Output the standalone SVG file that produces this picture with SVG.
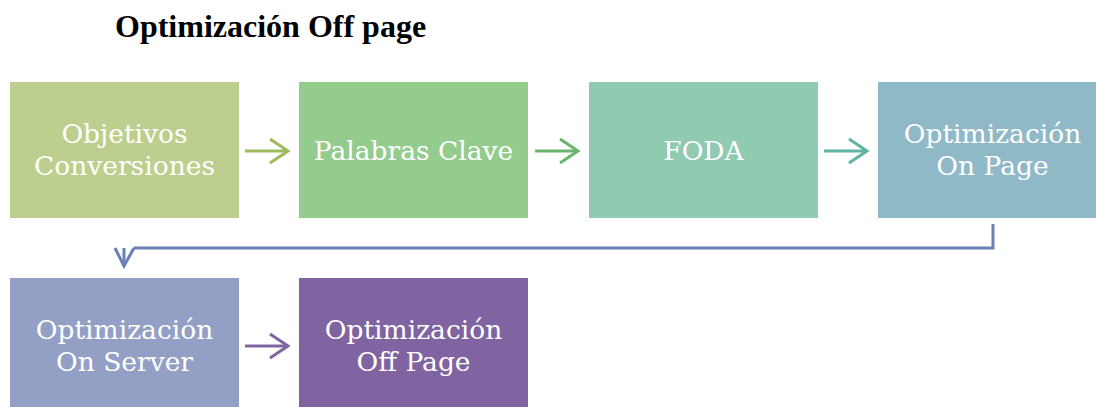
<svg xmlns="http://www.w3.org/2000/svg" width="1096" height="407" viewBox="0 0 1096 407">
  <defs>
    <style>
      .title { font-family: "Liberation Serif", "Times New Roman", serif; font-weight: bold; font-size: 32px; fill: #000; }
      .label { font-family: "DejaVu Serif", "Liberation Serif", serif; font-size: 26.5px; fill: #ffffff; text-anchor: middle; }
      .arrow { fill: none; stroke-width: 3; stroke-linecap: butt; stroke-linejoin: miter; }
    </style>
  </defs>
  <rect width="1096" height="407" fill="#ffffff"/>

  <text class="title" x="115" y="37">Optimización Off page</text>

  <g id="node-objetivos">
    <rect x="10" y="82" width="229" height="136" fill="#bccf8e"/>
    <text class="label" x="124.5" y="143">Objetivos</text>
    <text class="label" x="124.5" y="175">Conversiones</text>
  </g>
  <g id="node-palabras">
    <rect x="299" y="82" width="229" height="136" fill="#93cc8c"/>
    <text class="label" x="413.5" y="160">Palabras Clave</text>
  </g>
  <g id="node-foda">
    <rect x="589" y="82" width="229" height="136" fill="#8fcab1"/>
    <text class="label" x="703.5" y="160">FODA</text>
  </g>
  <g id="node-onpage">
    <rect x="878" y="82" width="229" height="136" fill="#90b9c7"/>
    <text class="label" x="992.5" y="143">Optimización</text>
    <text class="label" x="992.5" y="175">On Page</text>
  </g>
  <g id="node-onserver">
    <rect x="10" y="278" width="229" height="136" fill="#939fc5"/>
    <text class="label" x="124.5" y="339">Optimización</text>
    <text class="label" x="124.5" y="371">On Server</text>
  </g>
  <g id="node-offpage">
    <rect x="299" y="278" width="229" height="136" fill="#8064a2"/>
    <text class="label" x="413.5" y="339">Optimización</text>
    <text class="label" x="413.5" y="371">Off Page</text>
  </g>

  <g id="connectors">
    <g stroke="#9dbb5e" class="arrow">
      <path d="M245 151 H288"/>
      <path d="M270 139 L288 151 L270 163"/>
    </g>
    <g stroke="#6ab56c" class="arrow">
      <path d="M535 151 H578"/>
      <path d="M560 139 L578 151 L560 163"/>
    </g>
    <g stroke="#5fb3a4" class="arrow">
      <path d="M824 151 H867"/>
      <path d="M849 139 L867 151 L849 163"/>
    </g>
    <g stroke="#6a80b6" class="arrow">
      <path d="M993 224 V248 H134"/>
      <path d="M124 248 V266"/>
      <path d="M115 248 L124 266 L134 248"/>
    </g>
    <g stroke="#8064a2" class="arrow">
      <path d="M245 346 H288"/>
      <path d="M270 334 L288 346 L270 358"/>
    </g>
  </g>
</svg>
